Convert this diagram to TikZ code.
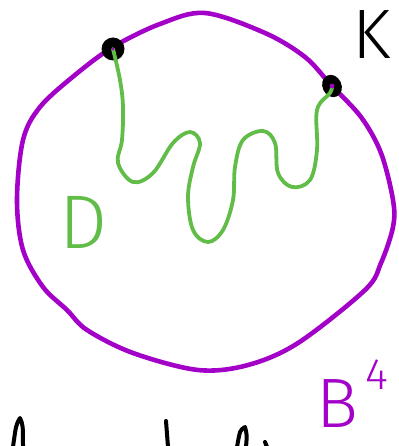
\documentclass[tikz,border=0pt]{standalone}
\usepackage{fontspec}
\usetikzlibrary{shapes.geometric}
\newfontfamily\hand{Fira Sans Light}
\definecolor{ballpurple}{RGB}{163,0,200}
\definecolor{diskgreen}{RGB}{98,188,72}
\tikzset{
  ballline/.style={draw=ballpurple,line width=4.6pt,line cap=round,line join=round},
  diskline/.style={draw=diskgreen,line width=3.8pt,line cap=round,line join=round},
  knotdot/.style={fill=black,draw=none,inner sep=0pt},
  inkstroke/.style={draw=black,line width=4pt,line cap=round,line join=round},
  lbl/.style={inner sep=0pt,font=\hand}
}
\begin{document}
\begin{tikzpicture}[x=1pt,y=-1pt]
\useasboundingbox (0,0) rectangle (398,446);
% ball boundary
\draw[ballline] plot[smooth cycle,tension=0.55] coordinates {
 (205,13) (265,33) (305,57) (331,85) (361,117) (381,153) (393,200) (393,227)
 (381,263) (365,290) (298,343) (248,365) (198,370) (133,353) (87,330) (67,310)
 (43,287) (23,250) (17,200) (23,140) (40,107) (75,75) (113,47) (160,24)};
% knot points
\node[knotdot,circle,minimum size=23pt] (p1) at (113,49) {};
\node[knotdot,ellipse,minimum width=19pt,minimum height=23pt,rotate=25] (p2) at (332,86) {};
% disk
\draw[diskline] plot[smooth,tension=0.6] coordinates {
 (p1.center) (120,80) (123,107) (122,140) (118,163) (133,182) (153,173) (173,143)
 (190,132) (200,143) (193,167) (188,197) (193,230) (208,242) (223,230) (233,200)
 (235,167) (243,140) (263,131) (275,143) (278,173) (292,187) (310,180) (317,150)
 (317,110) (330,93) (p2.center)};
\fill[ballpurple] (p1.center) circle (1.6pt);
\fill[ballpurple] (p2.center) circle (2.4pt);
% labels
\node[lbl,text=black,font=\hand\fontsize{70}{70}\selectfont] (K) at (372,35) {K};
\node[lbl,text=diskgreen,font=\hand\fontsize{76}{76}\selectfont] (D) at (84,222) {D};
\node[lbl,text=ballpurple,font=\hand\fontsize{70}{70}\selectfont] (B) at (337,404) {B};
\node[lbl,text=ballpurple,font=\hand\fontsize{44}{44}\selectfont] (four) at (377,375) {4};
% cut-off ink at the bottom edge
\draw[inkstroke] (13,447) .. controls (16,425) .. (20,418) .. controls (23,425) .. (23,447);
\draw[inkstroke] (166,421) -- (168,447);
\draw[inkstroke] (237,447) .. controls (240,430) .. (245,427) .. controls (247,435) .. (246,447);
\draw[inkstroke] (265,442) -- (267,447);
\end{tikzpicture}
\end{document}
